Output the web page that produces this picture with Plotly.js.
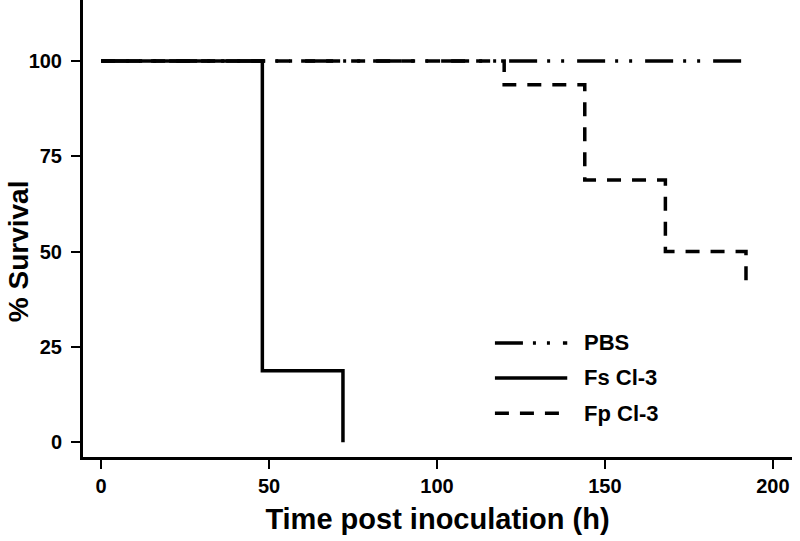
<!DOCTYPE html>
<html>
<head>
<meta charset="utf-8">
<script src="https://cdn.plot.ly/plotly-3.0.1.min.js"></script>
<style>body{margin:0;background:#fff}</style>
</head>
<body>
<div id="plot" style="width:800px;height:541px"></div>
<script>
// survival curves (time in h, % survival)
let pbsTime = [0, 192]
let pbsSurv = [100, 100]

let fsTime = [0, 48, 72]
let fsSurv = [100, 18.75, 0]

let fpTime = [0, 120, 144, 168, 192, 192]
let fpSurv = [100, 93.75, 68.75, 50, 50, 40]

let seriesNames = ["PBS", "Fs Cl-3", "Fp Cl-3"]
let tickValsX = [0, 50, 100, 150, 200]
let tickValsY = [0, 25, 50, 75, 100]

// line styles, shared by curves and the hand-made legend
let pbsDash = "28px,10px,3px,11px,3px,13px"
let fpDash = "14px,11px"
let lineW = 3.5

let pbsTrace = {
    x: pbsTime, y: pbsSurv, name: seriesNames[0],
    mode: "lines", line: {shape: "hv", color: "#000", width: lineW, dash: pbsDash}
}
let fpTrace = {
    x: fpTime, y: fpSurv, name: seriesNames[2],
    mode: "lines", line: {shape: "hv", color: "#000", width: lineW, dash: fpDash}
}
let fsTrace = {
    x: fsTime, y: fsSurv, name: seriesNames[1],
    mode: "lines", line: {shape: "hv", color: "#000", width: lineW}
}

// legend drawn as shapes + annotations so the samples can be long
let legY = [0.2495, 0.173, 0.096]
let legDash = [pbsDash, "solid", fpDash]
let shapes = []
let annotations = []
for (let i = 0; i < seriesNames.length; i++) {
    shapes.push({
        type: "line", xref: "paper", yref: "paper",
        x0: 0.581, x1: 0.683, y0: legY[i], y1: legY[i],
        line: {color: "#000", width: lineW, dash: legDash[i]}
    })
    annotations.push({
        xref: "paper", yref: "paper", x: 0.704, y: legY[i],
        xanchor: "left", yanchor: "middle", showarrow: false,
        text: seriesNames[i], font: {size: 22, weight: "bold", color: "#000"}
    })
}

// y title is centred on the 0-100 range, not the whole axis
annotations.push({
    xref: "paper", yref: "y", x: -0.1155, y: 50,
    xanchor: "left", yanchor: "middle", showarrow: false, textangle: -90,
    text: "% Survival", font: {size: 28, weight: "bold", color: "#000"}
})

let layout = {
    width: 800, height: 541,
    margin: {l: 83, r: 8, t: 0, b: 84},
    paper_bgcolor: "#fff", plot_bgcolor: "#fff",
    font: {family: "Liberation Sans, Arial, sans-serif", color: "#000"},
    showlegend: false,
    shapes: shapes,
    annotations: annotations,
    xaxis: {
        range: [-5.4, 205.7], tickvals: tickValsX,
        showgrid: false, zeroline: false, showline: true, linewidth: 3, linecolor: "#000",
        ticks: "outside", ticklen: 9, tickwidth: 2, tickcolor: "#000",
        tickfont: {size: 20, weight: "bold"},
        title: {text: "Time post inoculation (h)", font: {size: 29, weight: "bold"}, standoff: 13}
    },
    yaxis: {
        range: [-3.9, 116], tickvals: tickValsY,
        showgrid: false, zeroline: false, showline: true, linewidth: 3, linecolor: "#000",
        ticks: "outside", ticklen: 9, tickwidth: 2, tickcolor: "#000",
        ticklabelstandoff: 5,
        tickfont: {size: 20, weight: "bold"}
    }
}

Plotly.newPlot("plot", [fsTrace, fpTrace, pbsTrace], layout, {displayModeBar: false})
</script>
</body>
</html>
